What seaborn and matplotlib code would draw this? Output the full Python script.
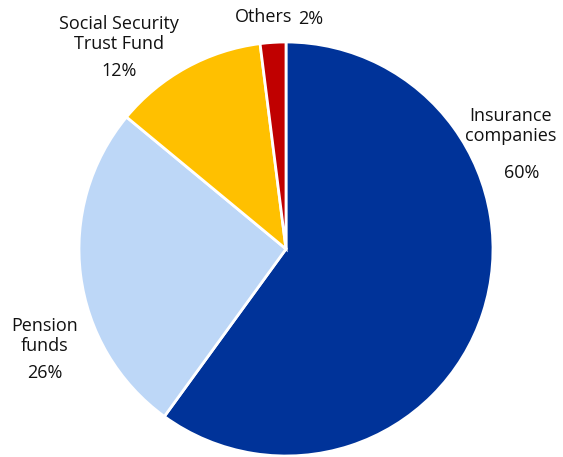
import matplotlib
matplotlib.use("Agg")
import matplotlib.pyplot as plt
import seaborn as sns

sns.set_theme(style="white")
plt.rcParams['font.family'] = ['Open Sans', 'DejaVu Sans']

categories = ["Insurance companies", "Pension funds", "Social Security Trust Fund", "Others"]
values = [60, 26, 12, 2]
colors = ["#003399", "#BDD7F7", "#FFC000", "#C00000"]

W, H = 563, 457
cx, cy, R = 286, 249, 207

fig = plt.figure(figsize=(W / 100, H / 100), dpi=100)
ax = fig.add_axes([0, 0, 1, 1])
ax.pie(values, colors=colors, startangle=90, counterclock=False, radius=1,
       wedgeprops=dict(edgecolor="white", linewidth=2))
ax.set_xlim(-cx / R, (W - cx) / R)
ax.set_ylim(-(H - cy) / R, cy / R)
ax.set_aspect("auto")
ax.axis("off")


def px(x, y):
    return (x - cx) / R, (cy - y) / R


labels = [
    ("Social Security\nTrust Fund", 119, 34, 13),
    ("12%", 119, 71, 13),
    ("Others", 264, 17, 13),
    ("2%", 311, 19, 13),
    ("Insurance\ncompanies", 511, 126, 13),
    ("60%", 522, 173, 13),
    ("Pension\nfunds", 45, 336, 13),
    ("26%", 45, 373, 13),
]
for txt, x, y, fs in labels:
    X, Y = px(x, y)
    ax.text(X, Y, txt, ha="center", va="center", fontsize=fs, color="#111111",
            linespacing=1.15)

fig.savefig("out.png", dpi=100)
